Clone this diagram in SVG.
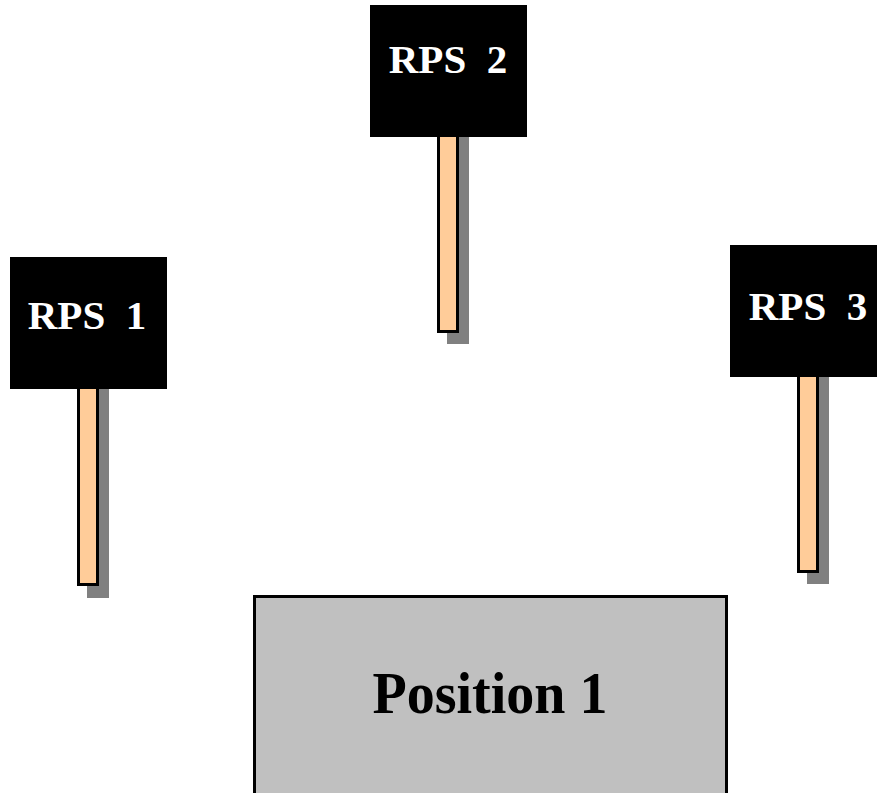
<svg xmlns="http://www.w3.org/2000/svg" width="877" height="793" viewBox="0 0 877 793">
<style>
.sign{fill:#000000}
.stick{fill:#FFCC99;stroke:#000000;stroke-width:3}
.shadow{fill:#808080}
.lbl{font-family:"Liberation Serif","Times New Roman",serif;font-weight:bold;fill:#ffffff;font-size:41px;text-anchor:middle}
.pos{fill:#C0C0C0;stroke:#000000;stroke-width:3}
.plbl{font-family:"Liberation Serif","Times New Roman",serif;font-weight:bold;fill:#000000;font-size:60px;text-anchor:middle}
</style>
<rect width="877" height="793" fill="#ffffff"/>
<g id="rps1">
<rect class="shadow" x="87" y="389" width="22" height="209"/>
<rect class="stick" x="78.5" y="380" width="19" height="204.5"/>
<rect class="sign" x="10" y="257" width="157" height="132"/>
<text class="lbl" x="87" y="329" xml:space="preserve">RPS  1</text>
</g>
<g id="rps2">
<rect class="shadow" x="447" y="137" width="22" height="207"/>
<rect class="stick" x="438.5" y="128" width="19" height="203.5"/>
<rect class="sign" x="370" y="5" width="157" height="132"/>
<text class="lbl" x="448" y="73" xml:space="preserve">RPS  2</text>
</g>
<g id="rps3">
<rect class="shadow" x="807" y="377" width="22" height="207"/>
<rect class="stick" x="798.5" y="368" width="19" height="203.5"/>
<rect class="sign" x="730" y="245" width="157" height="132"/>
<text class="lbl" x="808" y="320" xml:space="preserve">RPS  3</text>
</g>
<g id="position1">
<rect class="pos" x="254.5" y="596.5" width="472" height="220"/>
<text class="plbl" x="490" y="713" textLength="235" lengthAdjust="spacingAndGlyphs">Position 1</text>
</g>
<g id="connectors"/>
</svg>
